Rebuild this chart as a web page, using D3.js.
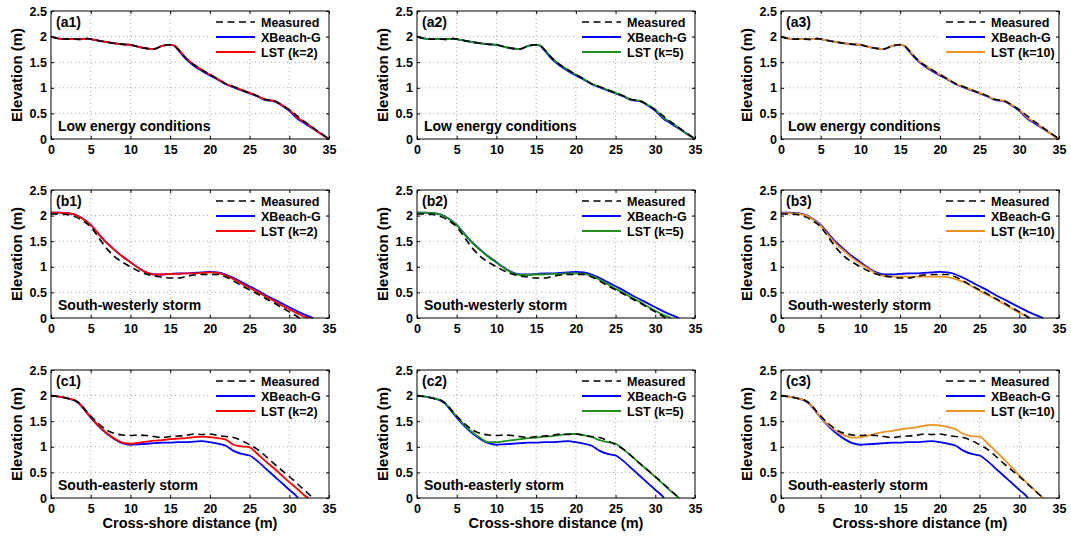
<!DOCTYPE html>
<html><head><meta charset="utf-8">
<script src="https://cdn.jsdelivr.net/npm/d3@7"></script>
<style>
body{margin:0;background:#fff;}
text{font-family:"Liberation Sans",Arial,sans-serif;font-weight:bold;fill:#000;}
</style></head>
<body><svg id="c" width="1071" height="540"></svg>
<script>
// ---------- data ----------
const xTicks = [0,5,10,15,20,25,30,35];
const yTicks = [0,0.5,1,1.5,2,2.5];
const yTickLabels = ["0","0.5","1","1.5","2","2.5"];
const rowLabels = ["a","b","c"];
const rowTitles = ["Low energy conditions","South-westerly storm","South-easterly storm"];
const kValues = [2,5,10];
const lstColors = ["#ff0000","#1f8f1f","#ee9322"];

// Row a: low energy
const xA = [0,1,2,3,4,4.5,5,6,7,8,9,10,11,12,13,14,15,15.5,16,17,18,19,20,21,22,23,24,25,26,27,28,29,30,31,32,33,34,35];
const measA = [2.0,1.96,1.95,1.95,1.94,1.96,1.95,1.92,1.89,1.87,1.85,1.84,1.80,1.77,1.76,1.82,1.84,1.82,1.75,1.58,1.45,1.35,1.26,1.17,1.08,1.02,0.96,0.90,0.84,0.77,0.75,0.67,0.57,0.45,0.33,0.22,0.11,0.0];
const xbA   = [2.0,1.96,1.95,1.95,1.95,1.96,1.95,1.92,1.89,1.87,1.85,1.84,1.80,1.77,1.76,1.82,1.84,1.82,1.74,1.56,1.43,1.33,1.24,1.16,1.07,1.01,0.95,0.89,0.83,0.76,0.74,0.66,0.55,0.40,0.30,0.20,0.10,0.0];
const lstA2 = [2.0,1.96,1.95,1.95,1.95,1.96,1.95,1.92,1.89,1.87,1.85,1.84,1.80,1.77,1.76,1.82,1.84,1.83,1.76,1.58,1.45,1.35,1.26,1.17,1.08,1.02,0.96,0.90,0.84,0.77,0.75,0.67,0.57,0.42,0.32,0.21,0.10,0.0];
const lstA5 = [2.0,1.96,1.95,1.95,1.95,1.96,1.95,1.92,1.89,1.87,1.85,1.84,1.80,1.77,1.76,1.82,1.84,1.83,1.76,1.58,1.45,1.35,1.26,1.17,1.08,1.02,0.96,0.90,0.84,0.77,0.75,0.67,0.57,0.42,0.32,0.21,0.10,0.0];
const lstA10= [2.0,1.96,1.95,1.95,1.95,1.96,1.95,1.92,1.89,1.87,1.85,1.84,1.80,1.77,1.76,1.82,1.84,1.83,1.76,1.58,1.45,1.35,1.26,1.17,1.08,1.02,0.96,0.90,0.84,0.77,0.75,0.67,0.57,0.42,0.32,0.21,0.10,0.0];

// Row b: south-westerly storm
const xMeasB = [0,1,2,3,4,5,6,7,8,9,10,11,12,13,14,15,16,17,18,19,20,21,22,23,24,25,26,27,28,29,30,31,31.3];
const measB  = [2.03,2.03,2.02,1.98,1.9,1.78,1.57,1.36,1.2,1.09,1.0,0.92,0.86,0.82,0.80,0.78,0.78,0.81,0.84,0.85,0.85,0.85,0.80,0.72,0.63,0.55,0.47,0.38,0.30,0.21,0.12,0.03,0.0];
const xXbB   = [0,1,2,3,4,5,6,7,8,9,10,11,12,13,14,15,16,17,18,19,20,21,22,23,24,25,26,27,28,29,30,31,32,33];
const xbB    = [2.06,2.06,2.05,2.02,1.94,1.82,1.64,1.47,1.33,1.2,1.09,0.98,0.89,0.85,0.85,0.86,0.87,0.87,0.88,0.89,0.90,0.89,0.85,0.78,0.70,0.62,0.54,0.45,0.37,0.29,0.21,0.13,0.06,0.0];
const xLstB2 = [0,1,2,3,4,5,6,7,8,9,10,11,12,13,14,15,16,17,18,19,20,21,22,23,24,25,26,27,28,29,30,31,32,32.5];
const lstB2  = [2.06,2.06,2.05,2.02,1.94,1.82,1.64,1.47,1.33,1.2,1.09,0.98,0.89,0.85,0.85,0.86,0.86,0.87,0.87,0.88,0.89,0.88,0.83,0.76,0.67,0.59,0.51,0.42,0.34,0.25,0.17,0.09,0.02,0.0];
const xLstB5 = [0,1,2,3,4,5,6,7,8,9,10,11,12,13,14,15,16,17,18,19,20,21,22,23,24,25,26,27,28,29,30,31,32];
const lstB5  = [2.06,2.06,2.05,2.02,1.94,1.82,1.63,1.46,1.32,1.19,1.08,0.97,0.88,0.84,0.84,0.85,0.85,0.86,0.86,0.87,0.87,0.86,0.82,0.75,0.66,0.57,0.49,0.40,0.32,0.23,0.14,0.06,0.0];
const xLstB10= [0,1,2,3,4,5,6,7,8,9,10,11,12,13,14,15,16,17,18,19,20,21,22,23,24,25,26,27,28,29,30,31,31.1];
const lstB10 = [2.05,2.05,2.04,2.01,1.93,1.80,1.61,1.44,1.30,1.17,1.06,0.96,0.87,0.82,0.81,0.81,0.81,0.81,0.81,0.81,0.81,0.80,0.76,0.70,0.62,0.53,0.45,0.37,0.28,0.19,0.10,0.02,0.0];

// Row c: south-easterly storm
const xMeasC = [0,1,2,3,3.5,4,5,6,7,8,9,10,11,12,13,14,15,16,17,18,19,20,21,22,23,24,25,26,27,28,29,30,31,32,33];
const measC  = [2.0,1.98,1.95,1.91,1.86,1.78,1.6,1.45,1.33,1.26,1.23,1.22,1.23,1.22,1.2,1.18,1.2,1.21,1.22,1.25,1.24,1.25,1.22,1.2,1.18,1.12,1.04,0.95,0.82,0.68,0.55,0.42,0.28,0.14,0.0];
const xXbC   = [0,1,2,3,3.5,4,5,6,7,8,9,10,11,12,13,14,15,16,17,18,19,20,21,22,23,24,25,26,27,28,29,30,31,31.1];
const xbC    = [2.0,1.98,1.95,1.9,1.85,1.76,1.57,1.4,1.26,1.15,1.07,1.04,1.05,1.06,1.07,1.08,1.08,1.09,1.09,1.10,1.11,1.09,1.06,1.02,0.92,0.86,0.83,0.72,0.58,0.44,0.30,0.16,0.02,0.0];
const xLstC2 = [0,1,2,3,3.5,4,5,6,7,8,9,10,11,12,13,14,15,16,17,18,19,20,21,22,23,24,25,26,27,28,29,30,31,32,32.4];
const lstC2  = [2.0,1.98,1.95,1.91,1.86,1.77,1.58,1.41,1.27,1.16,1.08,1.06,1.08,1.10,1.12,1.13,1.15,1.16,1.17,1.19,1.20,1.19,1.17,1.14,1.04,1.01,0.99,0.86,0.72,0.59,0.45,0.31,0.18,0.04,0.0];
const xLstC5 = [0,1,2,3,3.5,4,5,6,7,8,9,10,11,12,13,14,15,16,17,18,19,20,21,22,23,24,25,26,27,28,29,30,31,32,33];
const lstC5  = [2.0,1.98,1.95,1.91,1.86,1.77,1.59,1.42,1.28,1.17,1.09,1.09,1.11,1.13,1.15,1.17,1.18,1.2,1.21,1.23,1.25,1.25,1.23,1.19,1.13,1.09,1.06,0.95,0.82,0.68,0.55,0.41,0.27,0.13,0.0];
const xLstC10= [0,1,2,3,3.5,4,5,6,7,8,9,10,11,12,13,14,15,16,17,18,19,20,21,22,23,24,25,26,27,28,29,30,31,32,33];
const lstC10 = [2.0,1.98,1.95,1.91,1.86,1.77,1.58,1.42,1.3,1.22,1.18,1.19,1.22,1.26,1.29,1.31,1.34,1.36,1.38,1.41,1.43,1.42,1.39,1.34,1.25,1.21,1.20,1.07,0.92,0.77,0.61,0.44,0.29,0.14,0.0];

const rows = [
  {meas:[xA,measA], xb:[xA,xbA], lst:[[xA,lstA2],[xA,lstA5],[xA,lstA10]]},
  {meas:[xMeasB,measB], xb:[xXbB,xbB], lst:[[xLstB2,lstB2],[xLstB5,lstB5],[xLstB10,lstB10]]},
  {meas:[xMeasC,measC], xb:[xXbC,xbC], lst:[[xLstC2,lstC2],[xLstC5,lstC5],[xLstC10,lstC10]]}
];

// ---------- layout ----------
const colLeft = [51,417,781], axW = 278;
const rowTop = [11,190,370], axH = 128;
const svg = d3.select("#c");
const zip = (p)=>p[0].map((x,i)=>[x,p[1][i]]);
const DASH = "7,4.5";

rows.forEach((row,r)=>{
  kValues.forEach((k,c)=>{
    const g = svg.append("g").attr("transform",`translate(${colLeft[c]},${rowTop[r]})`);
    const x = d3.scaleLinear().domain([0,35]).range([0,axW]);
    const y = d3.scaleLinear().domain([0,2.5]).range([axH,0]);
    // grid
    g.append("g").selectAll("line").data(xTicks.slice(1,-1)).join("line")
      .attr("x1",d=>x(d)).attr("x2",d=>x(d)).attr("y1",0).attr("y2",axH)
      .attr("stroke","#aaaaaa").attr("stroke-width",1).attr("stroke-dasharray","1,3");
    g.append("g").selectAll("line").data(yTicks.slice(1,-1)).join("line")
      .attr("y1",d=>y(d)).attr("y2",d=>y(d)).attr("x1",0).attr("x2",axW)
      .attr("stroke","#aaaaaa").attr("stroke-width",1).attr("stroke-dasharray","1,3");
    // legend background (drawn beneath the curves)
    const lgX = 158;
    g.append("rect").attr("x",lgX).attr("y",2).attr("width",axW-lgX-2).attr("height",45).attr("fill","#fff");
    // lines
    const line = d3.line().x(d=>x(d[0])).y(d=>y(d[1])).curve(d3.curveMonotoneX);
    const clipId = `clip${r}${c}`;
    g.append("clipPath").attr("id",clipId).append("rect").attr("width",axW).attr("height",axH+2).attr("y",-1);
    const lg = g.append("g").attr("clip-path",`url(#${clipId})`);
    lg.append("path").datum(zip(row.xb)).attr("d",line).attr("fill","none").attr("stroke","#0000ff").attr("stroke-width",1.8);
    lg.append("path").datum(zip(row.lst[c])).attr("d",line).attr("fill","none").attr("stroke",lstColors[c]).attr("stroke-width",1.8);
    lg.append("path").datum(zip(row.meas)).attr("d",line).attr("fill","none").attr("stroke","#000").attr("stroke-width",1.6).attr("stroke-dasharray",DASH);
    // axes box
    g.append("rect").attr("width",axW).attr("height",axH).attr("fill","none").attr("stroke","#000").attr("stroke-width",1);
    const ax = d3.axisBottom(x).tickValues(xTicks).tickSizeInner(-3).tickSizeOuter(0).tickPadding(6);
    const axg = g.append("g").attr("transform",`translate(0,${axH})`).call(ax);
    const ay = d3.axisLeft(y).tickValues(yTicks).tickFormat((d,i)=>yTickLabels[i]).tickSizeInner(-3).tickSizeOuter(0).tickPadding(4);
    const ayg = g.append("g").call(ay);
    g.append("g").call(d3.axisTop(x).tickValues(xTicks).tickSizeInner(-3).tickSizeOuter(0).tickFormat(""));
    g.append("g").attr("transform",`translate(${axW},0)`).call(d3.axisRight(y).tickValues(yTicks).tickSizeInner(-3).tickSizeOuter(0).tickFormat(""));
    g.selectAll(".domain").remove();
    g.selectAll(".tick line").attr("stroke","#000");
    [axg,ayg].forEach(a=>a.selectAll("text").attr("font-size",12.5).attr("font-family","Liberation Sans, Arial, sans-serif").attr("font-weight","bold").attr("fill","#000"));
    // y label
    g.append("text").attr("transform",`translate(-29,${axH/2}) rotate(-90)`).attr("text-anchor","middle")
      .attr("font-size",15).text("Elevation (m)");
    if(r===2){
      g.append("text").attr("x",axW/2).attr("y",axH+30).attr("text-anchor","middle").attr("font-size",14.5).text("Cross-shore distance (m)");
    }
    // panel label & title
    g.append("text").attr("x",5).attr("y",16).attr("font-size",14).text(`(${rowLabels[r]}${c+1})`);
    g.append("text").attr("x",7).attr("y",axH-8).attr("font-size",14).text(rowTitles[r]);
    // legend
    const leg = g.append("g").attr("transform",`translate(${lgX},0)`);
    const items = [["Measured","#000",DASH],["XBeach-G","#0000ff",null],[`LST (k=${k})`,lstColors[c],null]];
    items.forEach((it,i)=>{
      const yy = 11 + i*15;
      leg.append("line").attr("x1",7).attr("x2",46).attr("y1",yy).attr("y2",yy)
        .attr("stroke",it[1]).attr("stroke-width",it[2]?1.6:1.8).attr("stroke-dasharray",it[2]);
      leg.append("text").attr("x",52).attr("y",yy+4.5).attr("font-size",12.5).text(it[0]);
    });
  });
});
</script></body></html>
